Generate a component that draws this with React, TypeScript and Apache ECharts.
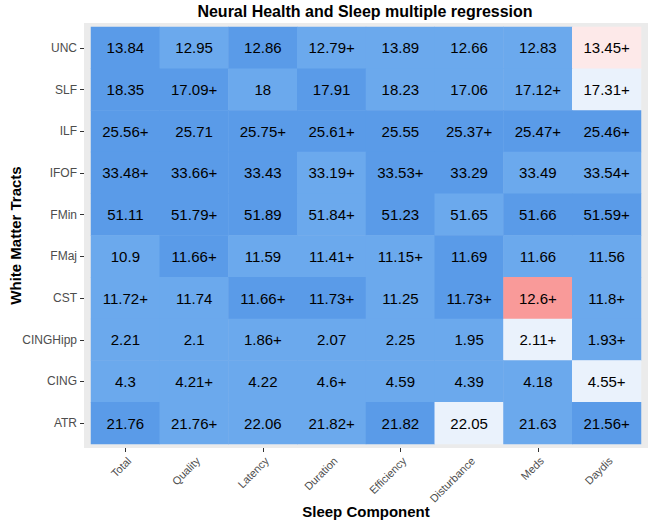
import React, { useEffect, useRef } from "react";
import * as echarts from "echarts";

const components = ["Total", "Quality", "Latency", "Duration", "Efficiency", "Disturbance", "Meds", "Daydis"];
const tracts = ["UNC", "SLF", "ILF", "IFOF", "FMin", "FMaj", "CST", "CINGHipp", "CING", "ATR"];

const values: number[][] = [
  [13.84, 12.95, 12.86, 12.79, 13.89, 12.66, 12.83, 13.45],
  [18.35, 17.09, 18, 17.91, 18.23, 17.06, 17.12, 17.31],
  [25.56, 25.71, 25.75, 25.61, 25.55, 25.37, 25.47, 25.46],
  [33.48, 33.66, 33.43, 33.19, 33.53, 33.29, 33.49, 33.54],
  [51.11, 51.79, 51.89, 51.84, 51.23, 51.65, 51.66, 51.59],
  [10.9, 11.66, 11.59, 11.41, 11.15, 11.69, 11.66, 11.56],
  [11.72, 11.74, 11.66, 11.73, 11.25, 11.73, 12.6, 11.8],
  [2.21, 2.1, 1.86, 2.07, 2.25, 1.95, 2.11, 1.93],
  [4.3, 4.21, 4.22, 4.6, 4.59, 4.39, 4.18, 4.55],
  [21.76, 21.76, 22.06, 21.82, 21.82, 22.05, 21.63, 21.56],
];

const plusMarks: number[][] = [
  [0, 0, 0, 1, 0, 0, 0, 1],
  [0, 1, 0, 0, 0, 0, 1, 1],
  [1, 0, 1, 1, 0, 1, 1, 1],
  [1, 1, 0, 1, 1, 0, 0, 1],
  [0, 1, 0, 1, 0, 0, 0, 1],
  [0, 1, 0, 1, 1, 0, 0, 0],
  [1, 0, 1, 1, 0, 1, 1, 1],
  [0, 0, 1, 0, 0, 0, 1, 1],
  [0, 1, 0, 1, 0, 0, 0, 1],
  [0, 1, 0, 1, 0, 0, 0, 1],
];

// effect level: 2 strong blue, 1 blue, 0 near-zero, -1 weak red, -2 red
const levels: number[][] = [
  [2, 1, 2, 1, 1, 1, 1, -1],
  [2, 2, 1, 2, 1, 1, 1, 0],
  [2, 2, 2, 2, 2, 2, 2, 2],
  [2, 2, 2, 1, 2, 2, 1, 1],
  [2, 2, 2, 1, 2, 1, 2, 2],
  [1, 2, 1, 1, 1, 2, 1, 1],
  [1, 1, 2, 2, 1, 2, -2, 1],
  [1, 1, 1, 1, 1, 1, 0, 1],
  [1, 1, 1, 1, 1, 1, 1, 0],
  [2, 1, 1, 1, 2, 0, 1, 2],
];

const FONT = "'Liberation Sans', Arial, Helvetica, sans-serif";

const panelRect = {
  id: "panel",
  type: "rect",
  z: -10,
  silent: true,
  shape: { x: 84, y: 23, width: 564, height: 425 },
  style: { fill: "#ebebeb" },
};

export default function App() {
  const ref = useRef<HTMLDivElement>(null);
  useEffect(() => {
    if (!ref.current) return;
    const chart = echarts.init(ref.current, null, { renderer: "svg" });
    const data: any[] = [];
    tracts.forEach((t, r) => {
      components.forEach((c, ci) => {
        data.push({
          value: [ci, r, levels[r][ci]],
          label: String(values[r][ci]) + (plusMarks[r][ci] ? "+" : ""),
        });
      });
    });
    chart.setOption({
      animation: false,
      backgroundColor: "#ffffff",
      textStyle: { fontFamily: FONT },
      title: {
        text: "Neural Health and Sleep multiple regression",
        left: 365,
        top: 3,
        padding: 0,
        textAlign: "center",
        textStyle: { fontSize: 16, fontWeight: "bold", color: "#000", fontFamily: FONT },
      },
      graphic: [panelRect],
      grid: {
        left: 91,
        right: 12,
        top: 27,
        bottom: 78,
        containLabel: false,
        outerBoundsMode: "none",
      },
      xAxis: {
        type: "category",
        data: components,
        name: "Sleep Component",
        nameLocation: "middle",
        nameGap: 56,
        nameMoveOverlap: false,
        nameTextStyle: { fontSize: 15, fontWeight: "bold", color: "#000", fontFamily: FONT },
        offset: 4,
        axisLine: { show: false },
        axisTick: { show: true, alignWithLabel: true, length: 4, lineStyle: { color: "#333" } },
        axisLabel: { show: false },
        splitLine: { show: false },
      },
      yAxis: {
        type: "category",
        data: tracts,
        inverse: true,
        name: "White Matter Tracts",
        nameLocation: "middle",
        nameGap: 61,
        nameMoveOverlap: false,
        nameRotate: 90,
        nameTextStyle: { fontSize: 15, fontWeight: "bold", color: "#000", fontFamily: FONT },
        offset: 7,
        axisLine: { show: false },
        axisTick: { show: true, alignWithLabel: true, length: 4, lineStyle: { color: "#333" } },
        axisLabel: { fontSize: 12, color: "#4d4d4d", margin: 7, interval: 0, fontFamily: FONT },
        splitLine: { show: false },
      },
      visualMap: {
        type: "piecewise",
        show: false,
        dimension: 2,
        pieces: [
          { value: 2, color: "#5a9be8" },
          { value: 1, color: "#6ba9ed" },
          { value: 0, color: "#eaf2fc" },
          { value: -1, color: "#fde9e9" },
          { value: -2, color: "#f99a99" },
        ],
      },
      series: [
        {
          type: "heatmap",
          data,
          itemStyle: { borderWidth: 0 },
          label: {
            show: true,
            color: "#000",
            fontSize: 15,
            fontFamily: FONT,
            formatter: (p: any) => p.data.label,
          },
          emphasis: { disabled: true },
        },
      ],
    });

    // rotated x-axis labels placed from the axis scale (ggplot-style hjust=1, vjust=1)
    const last = tracts.length - 1;
    const yLast = chart.convertToPixel({ yAxisIndex: 0 }, tracts[last]) as number;
    const yPrev = chart.convertToPixel({ yAxisIndex: 0 }, tracts[last - 1]) as number;
    const tileBottom = yLast + Math.abs(yLast - yPrev) / 2;
    const labelY = tileBottom + 11;
    const xLabels = components.map((c) => {
      const x = chart.convertToPixel({ xAxisIndex: 0 }, c) as number;
      return {
        type: "text",
        x: x,
        y: labelY,
        rotation: Math.PI / 4,
        silent: true,
        style: {
          text: c,
          align: "right",
          verticalAlign: "top",
          fontSize: 11,
          fontFamily: FONT,
          fill: "#4d4d4d",
        },
      };
    });
    chart.setOption({ graphic: [panelRect, ...xLabels] });

    return () => chart.dispose();
  }, []);
  return (
    <div
      ref={ref}
      style={{ position: "absolute", left: 0, top: 0, width: 653, height: 522 }}
    />
  );
}
